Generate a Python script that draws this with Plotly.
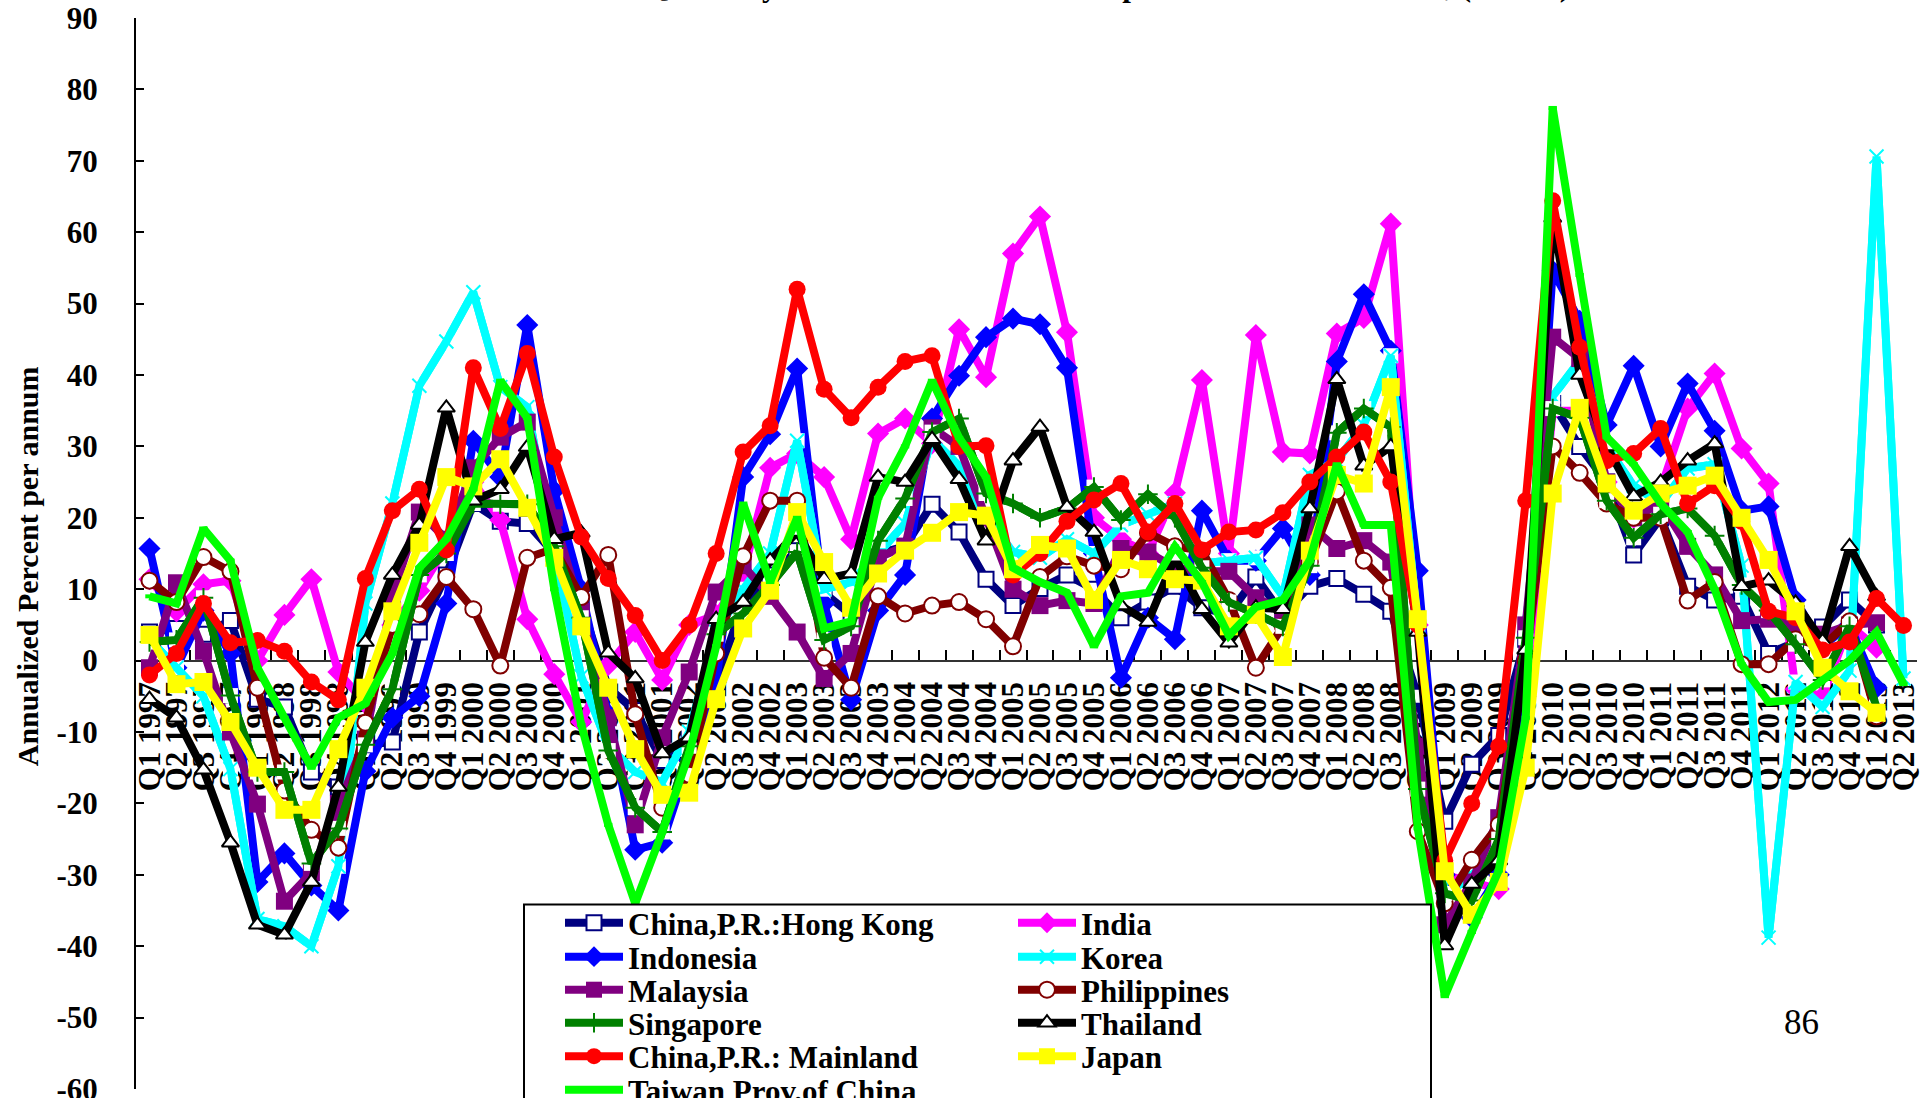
import plotly.graph_objects as go

quarters = [
 "Q1 1997","Q2 1997","Q3 1997","Q4 1997","Q1 1998","Q2 1998","Q3 1998","Q4 1998","Q1 1999","Q2 1999","Q3 1999","Q4 1999",
 "Q1 2000","Q2 2000","Q3 2000","Q4 2000","Q1 2001","Q2 2001","Q3 2001","Q4 2001","Q1 2002","Q2 2002","Q3 2002","Q4 2002",
 "Q1 2003","Q2 2003","Q3 2003","Q4 2003","Q1 2004","Q2 2004","Q3 2004","Q4 2004","Q1 2005","Q2 2005","Q3 2005","Q4 2005",
 "Q1 2006","Q2 2006","Q3 2006","Q4 2006","Q1 2007","Q2 2007","Q3 2007","Q4 2007","Q1 2008","Q2 2008","Q3 2008","Q4 2008",
 "Q1 2009","Q2 2009","Q3 2009","Q4 2009","Q1 2010","Q2 2010","Q3 2010","Q4 2010","Q1 2011","Q2 2011","Q3 2011","Q4 2011",
 "Q1 2012","Q2 2012","Q3 2012","Q4 2012","Q1 2013","Q2 2013"]

y_ticks = [-60,-50,-40,-30,-20,-10,0,10,20,30,40,50,60,70,80,90]
y_tick_text = ["-60","-50","-40","-30","-20","-10","0","10","20","30","40","50","60","70","80","90"]

hong_kong = [4,4.5,3.7,5.6,-5.4,-6.5,-15.6,-17.7,-11.8,-11.4,
 4,12,22,19.5,19.2,15,8,-3.8,-7,-14,
 -11,-3,8,12,15.4,9.5,6.4,15,16,21.9,
 18,11.4,7.7,10.1,12,10,6,8.2,10.4,7.4,
 6.5,11.7,6.4,10.4,11.5,9.3,6.9,-5,-22.5,-14.5,
 -10.5,3,36,30,25,14.8,20,10.4,8.5,9,
 1,2.6,4.7,8.5,5,None]
india = [11.4,6.9,10.7,11.2,0,6.4,11.4,-1.6,-6,5,
 9.8,16,25,19.7,5.8,-1.9,-8.6,-0.6,4,-2.7,
 5,6.4,12.2,27,29,25.7,17,31.8,33.9,30.4,
 46.4,39.7,57,62.2,46,20,17,15,23.5,39.3,
 15,45.6,29.2,29,45.8,48,61.2,5,-30,-31,
 -32,-5,35,35,25,20,24,35.3,40.2,29.7,
 24.8,-4,-5,5,1.8,None]
indonesia = [15.7,-1,7,1,-31,-27,-31.5,-35,-15.5,-8,
 -5,8,30.8,25.7,47,23.8,10,-7.5,-26.5,-25.5,
 -14,-3,25.7,31.7,40.9,8,-5.5,7,12,33.9,
 39.9,45.3,47.9,47.1,41,15,-2.4,6,3,21,
 14,14,18.5,12,41.9,51.3,43.4,12.6,-30,-36,
 -30,-1,54.6,47.6,33,41.3,30,38.8,32.2,21,
 21.6,8.5,2,5,-3.8,None]
korea = [3,-1,-5,-15.2,-36.2,-37.2,-40,-28.8,8,22,
 38.5,44.7,51.6,38.3,35.5,15,-2.2,-12,-15.6,-17,
 -10,4,10,15,30.8,10,11,15,19.2,31,
 27.3,20,15.2,14.4,17,15,19,20.5,22,13.6,
 14,14.4,9,26,28,33,42.7,5,-33,-30,
 -27,5,37,42,30,24.5,22,26.9,27.5,13.3,
 -38.8,-3,-6.5,-1.4,70.6,-2.5]
malaysia = [-1,10.9,1.3,-10,-20.1,-33.7,-29.7,-20,-11,9,
 20.8,17,27,31.3,33.4,20,6.9,-8,-23,-10.8,
 -1.6,9.6,13.3,9,4,-2.5,1,14.4,16,32.6,
 30,20,10,7.7,8.4,8,15.7,15.2,13,12.5,
 12.5,8.8,7,19,15.7,16.8,13.8,-12,-37,-31,
 -22,5,45.3,42.3,25,20,22,16,12,5.6,
 5.8,5,3.7,5,5.3,None]
philippines = [11.2,8.2,14.5,12.5,-3.8,-18.2,-23.7,-26.2,-8.7,5,
 6.5,11.7,7.2,-0.7,14.4,15.7,8.9,14.8,-7.5,-20.6,
 -16,1,14.6,22.4,22.4,0.4,-3.8,9,6.6,7.7,
 8.2,5.8,2,11.7,14.6,13.3,12.8,17.9,16,15.4,
 8.5,-1,4.8,13.8,23.7,14,10.2,-23.9,-34,-27.9,
 -23,0,30,26.3,22,20,20,8.4,11,-0.5,
 -0.5,3,2,5.5,-7.8,None]
singapore = [2.6,2.9,8.8,-4.9,-15.6,-15.6,-28.4,-23.5,-11.8,-4,
 12,15,22,21.9,21.9,16,6,-12.6,-20.6,-24,
 -12,3.7,6.6,10.6,15.2,2.9,4.8,16.8,22.7,32,
 33.9,23.4,22,20,21.3,24.3,19.7,23.3,20,13,
 8.2,6.5,4.8,13.3,31.9,35.3,32.7,-18,-32.6,-33.6,
 -25,3.2,35.3,34,22.4,17.2,20.5,21.3,17.5,10.6,
 7,2.3,-2.7,4.8,-6.5,None]
thailand = [-5.4,-8,-15.3,-25.5,-37,-38.4,-31,-17.7,2.6,12,
 19,35.4,22.4,24,29.9,17,17.9,1.1,-2.5,-13,
 -10.8,5.8,8.2,14,18,11.4,12.2,25.7,25,31,
 25.4,16.8,28,32.7,21.5,18,7.7,5.4,14.4,7.2,
 2.5,7.4,7.2,21.3,39.4,27.3,30,4,-39.9,-31.3,
 -28,1.5,62,40,30,23,25,28,30.4,10.4,
 11.2,8.1,2.7,16,9,None]
mainland = [-2,1,8,2.5,2.8,1.3,-3,-5.5,11.5,21,
 24,15.5,41,32.5,43,28.5,17.3,11.5,6.3,0,
 5,15,29.2,32.9,52,38,34,38.3,41.9,42.7,
 30,30.1,12,15,19.5,22.5,24.8,18,22,15.5,
 18,18.3,20.7,25,28.5,32,25,5,-28,-20,
 -12,22.4,64.4,43.9,28,29,32.5,22,24.5,19.5,
 6.9,6,1.5,2.6,8.7,4.9]
japan = [3.6,-3.3,-3,-8.6,-15,-20.9,-20.9,-12.4,-3.8,6.9,
 16.5,25.7,24.4,28.2,21.4,14.4,4.8,-3.8,-12.4,-18.8,
 -18.5,-5.4,4.5,9.8,20.8,13.8,7.4,12.2,15.4,17.9,
 20.8,20.3,12.8,16.2,15.7,8.5,14.1,12.8,11.4,11.2,
 4.8,6.4,0.5,15.4,26,24.8,38.3,5.8,-29.5,-35.6,
 -31,-15,23.4,35.4,24.8,21,23.4,24.5,25.9,20,
 14.1,6.9,-1,-4.3,-7.3,None]
taiwan = [9,8,18.5,14,-1,-8,-15,-8,-6,1,
 13,17,24,39.2,34,10,-9,-23,-34,-24,
 -13,2,22,11,20,4.5,5.5,22.8,30,39.2,
 31.2,25.7,13,11,9.5,2,9,9.5,16,11,
 3.5,7.5,8.5,14,27.5,19,19,-23.5,-47,-38,
 -29.4,-8,77.4,54,31.3,27.5,22,18,10,-0.5,
 -5.8,-5.5,-2.7,0,4,-3.3]

W, H = 1920, 1098
L, R, T, B = 136, 1917, 17.5, 1089
FONT = "Liberation Serif"

def px(x): return (x - L) / (R - L)
def py(y): return (B - y) / (B - T)

# name, values, colour, marker symbol, size, fill, marker line, underlay, legend slot (x origin, y row centre)
series = [
 ("China,P.R.:Hong Kong", hong_kong, "#000080", "square", 15, "white", 2, False, (560, 923)),
 ("India", india, "#FF00FF", "diamond", 17, "#FF00FF", 0, False, (1013, 923)),
 ("Indonesia", indonesia, "#0000FF", "diamond", 17, "#0000FF", 0, False, (560, 957)),
 ("Korea", korea, "#00FFFF", "x-thin-open", 14, "#00FFFF", 2, True, (1013, 957)),
 ("Malaysia", malaysia, "#800080", "square", 17, "#800080", 0, False, (560, 990)),
 ("Philippines", philippines, "#800000", "circle", 16, "white", 2, False, (1013, 990)),
 ("Singapore", singapore, "#008000", "cross-thin-open", 14, "#008000", 2, True, (560, 1023)),
 ("Thailand", thailand, "#000000", "triangle-up", 15, "white", 2, False, (1013, 1023)),
 ("China,P.R.: Mainland", mainland, "#FF0000", "circle", 17, "#FF0000", 0, False, (560, 1056.5)),
 ("Japan", japan, "#FFFF00", "square", 18, "#FFFF00", 0, False, (1013, 1056.5)),
 ("Taiwan Prov.of China", taiwan, "#00FF00", "line-ew", 6, "#00FF00", 4, False, (560, 1090)),
]

fig = go.Figure()
legends = {}
for k, (name, vals, col, sym, size, fill, mlw, under, (lx, ly)) in enumerate(series):
    key = "legend" if k == 0 else f"legend{k+1}"
    legends[key] = dict(
        x=px(lx), y=py(ly), xanchor="left", yanchor="middle", orientation="v",
        bgcolor="rgba(0,0,0,0)", borderwidth=0, itemwidth=58, itemsizing="trace",
        font=dict(family=FONT, size=31, color="black", weight="bold"),
        itemclick=False, itemdoubleclick=False,
    )
    if under:
        fig.add_trace(go.Scatter(x=quarters, y=vals, mode="lines+markers",
            line=dict(color=col, width=8), showlegend=False, hoverinfo="skip",
            marker=dict(symbol="square", size=size + 1, color="white", line=dict(width=0))))
    fig.add_trace(go.Scatter(x=quarters, y=vals, name=name, mode="lines+markers", legend=None if k == 0 else f"legend{k+1}",
        line=dict(color=col, width=8, shape="linear"),
        marker=dict(symbol=sym, size=size, color=fill, line=dict(color=col, width=mlw))))

fig.update_layout(
    width=W, height=H, autosize=False,
    margin=dict(l=L, r=W - R, t=T, b=H - B, pad=0, autoexpand=False),
    paper_bgcolor="white", plot_bgcolor="white", showlegend=True,
    font=dict(family=FONT, color="black"),
    **legends,
    xaxis=dict(type="category", categoryorder="array", categoryarray=quarters, range=[-0.5, 65.5],
        tickmode="array", tickvals=quarters, ticktext=quarters, tickson="boundaries",
        anchor="free", position=60 / 150, showline=True, linecolor="#333333", linewidth=2,
        ticks="inside", ticklen=10, tickwidth=2, tickcolor="black", tickangle=-90,
        ticklabelstandoff=8, layer="below traces", showgrid=False, zeroline=False,
        tickfont=dict(family=FONT, size=31, color="black", weight="bold")),
    yaxis=dict(range=[-60, 90], tickmode="array", tickvals=y_ticks, ticktext=y_tick_text,
        showline=True, linecolor="black", linewidth=2, ticklabeloverflow="allow",
        ticks="inside", ticklen=8, tickwidth=2, tickcolor="black", showgrid=False, zeroline=False,
        ticklabelstandoff=30, layer="below traces",
        tickfont=dict(family=FONT, size=31, color="black", weight="bold")),
    shapes=[dict(type="rect", xref="paper", yref="paper", x0=px(524), x1=px(1431), y0=py(1130), y1=py(904.5),
                 fillcolor="white", line=dict(color="black", width=2), layer="above")],
    annotations=[
        dict(text="<b>Annualized Percent per annum</b>", xref="paper", yref="paper", x=px(27), y=py(566),
             textangle=-90, showarrow=False, xanchor="center", yanchor="middle",
             font=dict(family=FONT, size=30, color="black")),
        dict(text="86", xref="paper", yref="paper", x=px(1801), y=py(1022), showarrow=False,
             xanchor="center", yanchor="middle", font=dict(family=FONT, size=35, color="black")),
        dict(text="<b>Quarterly Growth Rates of Total Exports of Asian Countries, (in US$)</b>", xref="paper", yref="paper",
             x=px(1107), y=py(4), showarrow=False, xanchor="center", yanchor="bottom",
             font=dict(family=FONT, size=31, color="black")),
    ],
)
fig.write_html("out.html", config={"displayModeBar": False},
               post_script="document.body.style.margin='0';document.documentElement.style.overflow='hidden';")
